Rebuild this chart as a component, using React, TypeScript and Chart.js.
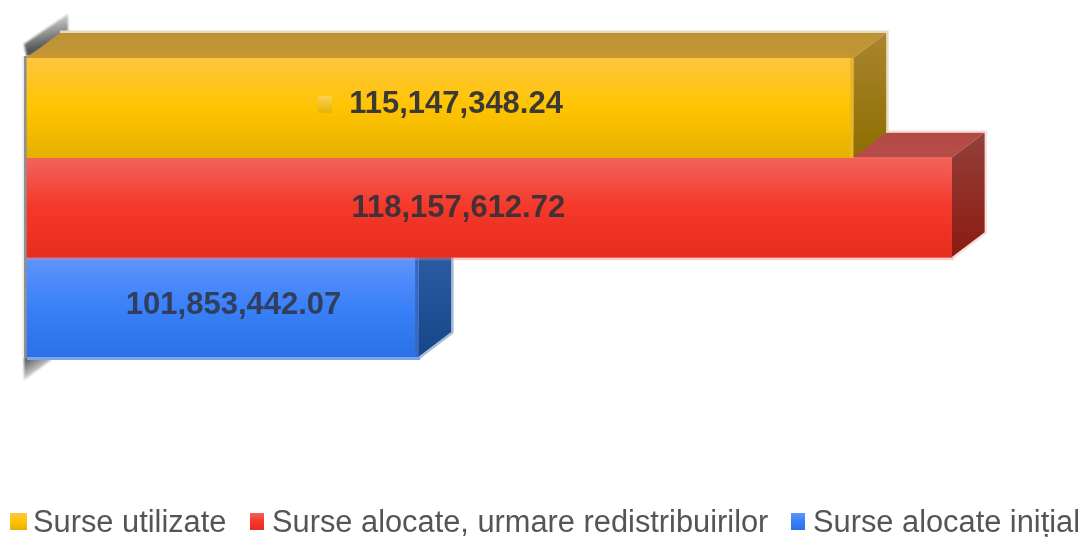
import React, { useEffect, useRef } from "react";
import { Chart, registerables } from "chart.js";

Chart.register(...registerables);

const seriesNames = ["Surse utilizate", "Surse alocate, urmare redistribuirilor", "Surse alocate inițial"];
const seriesValues = [115147348.24, 118157612.72, 101853442.07];
const categories = [""];
const axisMin = 89900000;
const axisMax = 119880000;

const frontStops = [
  ["#ffc53f", "#ffc400", "#e5b000"],
  ["#f2635b", "#f4382a", "#e72d1d"],
  ["#5e95fc", "#3a80f8", "#2a70e6"],
];
const topFace = [["#bb9336", "#c39634"], ["#b34a46", "#b74c47"], ["#2c5ca8", "#2c5ca8"]];
const sideFace = [["#ab852e", "#8c6e00"], ["#93403b", "#8c1a10"], ["#3060a8", "#154688"]];
const haloColor = ["#e6dcbc", "#f5dfdf", "#a9bbd9"];
const seamColor = ["#c9992c", "rgba(255,120,120,0.35)", "#79a5f0"];
const stripColor = ["#e8b52a", "rgba(0,0,0,0)", "#3a68c0"];
const labelCentreShift = [16, -31, 11];
const labelRowShift = [-3, 1, -2];
const labelTextColor = ["rgba(50,50,55,0.95)", "rgba(58,48,55,0.95)", "rgba(50,58,85,0.95)"];
const legendSwatchX = [10, 250, 791];
const legendSwatchW = [17, 14, 14];
const legendTextX = [33, 272, 813];

const DEPTH_X = 33;
const DEPTH_Y = 25;

function poly(ctx: CanvasRenderingContext2D, pts: number[][]) {
  ctx.beginPath();
  pts.forEach((p, i) => (i ? ctx.lineTo(p[0], p[1]) : ctx.moveTo(p[0], p[1])));
  ctx.closePath();
}

function vGrad(ctx: CanvasRenderingContext2D, y0: number, y1: number, colors: string[]) {
  const g = ctx.createLinearGradient(0, y0, 0, y1);
  colors.forEach((c, i) => g.addColorStop(i / (colors.length - 1), c));
  return g;
}

const bar3d = {
  id: "bar3d",
  beforeDatasetsDraw(chart: any) {
    const { ctx, chartArea: a } = chart;
    ctx.save();
    ctx.filter = "blur(1px)";
    const g1 = ctx.createLinearGradient(45, 22, 50, 46);
    g1.addColorStop(0, "#c4c4c4");
    g1.addColorStop(1, "#555555");
    ctx.fillStyle = g1;
    poly(ctx, [[a.left - 3, a.top - 14], [a.left + 41, a.top - 44], [a.left + 41, a.top - 27], [a.left, a.top]]);
    ctx.fill();
    const g2 = ctx.createLinearGradient(a.left, a.bottom, a.left + 10, a.bottom + 16);
    g2.addColorStop(0, "#555555");
    g2.addColorStop(1, "#d8d8d8");
    ctx.fillStyle = g2;
    poly(ctx, [[a.left - 3, a.bottom], [a.left + 28, a.bottom], [a.left - 3, a.bottom + 23]]);
    ctx.fill();
    ctx.filter = "none";
    ctx.fillStyle = "#909090";
    ctx.fillRect(a.left - 3, a.top - 2, 3, a.bottom - a.top + 3);
    ctx.fillStyle = "#eeeeee";
    ctx.fillRect(a.left - 5, a.top - 2, 2, a.bottom - a.top + 3);
    ctx.restore();
  },
  beforeDatasetDraw(chart: any, args: any) {
    const i = args.index;
    const { ctx } = chart;
    const el = args.meta.data[0];
    const { x, y, base, height } = el.getProps(["x", "y", "base", "height"], true);
    const top = y - height / 2;
    const bottom = y + height / 2;
    const dx = DEPTH_X;
    const dy = DEPTH_Y;
    ctx.save();
    const outline = [[base + dx, top - dy], [x + dx, top - dy], [x + dx, bottom - dy]];
    if (i !== 0) outline.push([x, bottom]);
    ctx.strokeStyle = haloColor[i];
    ctx.lineWidth = 5;
    ctx.beginPath();
    outline.forEach((p, k) => (k ? ctx.lineTo(p[0], p[1]) : ctx.moveTo(p[0], p[1])));
    ctx.stroke();
    ctx.fillStyle = vGrad(ctx, top - dy, top, topFace[i]);
    poly(ctx, [[base, top], [x, top], [x + dx, top - dy], [base + dx, top - dy]]);
    ctx.fill();
    ctx.fillStyle = vGrad(ctx, top - dy, bottom, sideFace[i]);
    poly(ctx, [[x, top], [x + dx, top - dy], [x + dx, bottom - dy], [x, bottom]]);
    ctx.fill();
    ctx.restore();
  },
  afterDatasetDraw(chart: any, args: any) {
    const i = args.index;
    const { ctx } = chart;
    const el = args.meta.data[0];
    const { x, y, base, height } = el.getProps(["x", "y", "base", "height"], true);
    const top = y - height / 2;
    const bottom = y + height / 2;
    ctx.save();
    ctx.fillStyle = seamColor[i];
    if (i === 0) ctx.fillRect(base, top - 3, x - base, 3);
    else ctx.fillRect(base, bottom, x - base + 2, 3);
    ctx.fillStyle = stripColor[i];
    ctx.fillRect(x - 3, top, 3, bottom - top);
    ctx.restore();
  },
  afterDatasetsDraw(chart: any) {
    const { ctx } = chart;
    ctx.save();
    ctx.filter = "blur(0.7px)";
    ctx.textAlign = "center";
    ctx.textBaseline = "middle";
    ctx.font = "bold 31px 'Liberation Sans'";
    chart.data.datasets.forEach((ds: any, i: number) => {
      const el = chart.getDatasetMeta(i).data[0];
      const { x, y, base } = el.getProps(["x", "y", "base"], true);
      const text = ds.data[0].toLocaleString("en-US", { minimumFractionDigits: 2, maximumFractionDigits: 2 });
      ctx.fillStyle = labelTextColor[i];
      ctx.fillText(text, (x + base) / 2 + labelCentreShift[i], y + labelRowShift[i]);
      if (i === 0) {
        ctx.fillStyle = vGrad(ctx, y - 12, y + 5, ["#ffcf55", "#e5b400"]);
        ctx.fillRect((x + base) / 2 - 122, y - 12, 14, 17);
      }
    });
    ctx.font = "30.8px 'Liberation Sans'";
    ctx.textAlign = "left";
    ctx.textBaseline = "alphabetic";
    chart.data.datasets.forEach((ds: any, i: number) => {
      ctx.filter = "none";
      ctx.fillStyle = vGrad(ctx, 513, 530, frontStops[i]);
      ctx.fillRect(legendSwatchX[i], 513, legendSwatchW[i], 17);
      ctx.filter = "blur(0.6px)";
      ctx.fillStyle = "#555555";
      ctx.fillText(ds.label, legendTextX[i], 532);
    });
    ctx.restore();
  },
};

export default function App() {
  const ref = useRef<HTMLCanvasElement>(null);
  useEffect(() => {
    const chart = new Chart(ref.current as HTMLCanvasElement, {
      type: "bar",
      data: {
        labels: categories,
        datasets: seriesNames.map((name, i) => ({
          label: name,
          data: [seriesValues[i]],
          base: axisMin,
          clip: false,
          backgroundColor: (c: any) => {
            const a = c.chart.chartArea;
            if (!a) return frontStops[i][1];
            const h = (a.bottom - a.top) / seriesNames.length;
            return vGrad(c.chart.ctx, a.top + h * i, a.top + h * (i + 1), frontStops[i]);
          },
          categoryPercentage: 1,
          barPercentage: 1,
        })),
      } as any,
      options: {
        indexAxis: "y",
        animation: false,
        responsive: false,
        layout: { padding: { left: 27, top: 58, right: 75, bottom: 180 } },
        plugins: { legend: { display: false }, tooltip: { enabled: false } },
        scales: {
          x: { display: false, min: axisMin, max: axisMax },
          y: { display: false },
        },
      } as any,
      plugins: [bar3d],
    });
    return () => chart.destroy();
  }, []);
  return (
    <div style={{ position: "absolute", left: 0, top: 0, width: 1083, height: 537 }}>
      <canvas ref={ref} width={1083} height={537} style={{ display: "block" }} />
    </div>
  );
}
